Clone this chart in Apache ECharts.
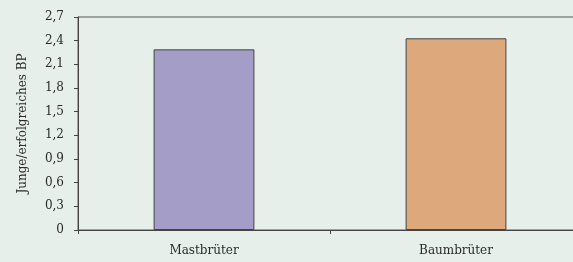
<!DOCTYPE html>
<html><head><meta charset="utf-8">
<script src="https://cdn.jsdelivr.net/npm/echarts@6/dist/echarts.min.js"></script>
<style>html,body{margin:0;padding:0;background:#e7efeb;}#c{width:573px;height:262px;}</style>
</head><body><div id="c"></div>
<script>
const categories = ['Mastbrüter', 'Baumbrüter'];
const values = [2.29, 2.43];
const barColors = ['#a39dc7', '#dca87c'];
const yAxisName = 'Junge/erfolgreiches BP';

const chart = echarts.init(document.getElementById('c'));
const font = 'DejaVu Serif';
chart.setOption({
  backgroundColor: '#e7efeb',
  animation: false,
  grid: {left: 78, width: 504, top: 17, bottom: 32, show: true, borderColor: '#555', borderWidth: 1,
    backgroundColor: 'transparent', outerBoundsMode: 'none', containLabel: false},
  xAxis: {
    type: 'category', data: categories,
    axisLine: {lineStyle: {color: '#444', width: 1}},
    axisTick: {show: true, length: 4, lineStyle: {color: '#444'}},
    axisLabel: {color: '#2a2a2a', fontFamily: font, fontSize: 12, margin: 15}
  },
  yAxis: {
    type: 'value', min: 0, max: 2.7, interval: 0.3,
    name: yAxisName, nameLocation: 'middle', nameGap: 49,
    nameTextStyle: {color: '#2a2a2a', fontFamily: font, fontSize: 12},
    axisLine: {show: true, lineStyle: {color: '#444', width: 1}},
    axisTick: {show: true, length: 4, lineStyle: {color: '#444'}},
    splitLine: {show: false},
    axisLabel: {color: '#2a2a2a', fontFamily: font, fontSize: 12, margin: 14,
      formatter: v => (Math.round(v*10)/10).toString().replace('.', ',')}
  },
  series: [{
    type: 'bar', barWidth: '40%',
    data: values.map((v, i) => ({value: v, itemStyle: {color: barColors[i]}})),
    itemStyle: {borderColor: '#444', borderWidth: 1}
  }]
});
</script></body></html>
